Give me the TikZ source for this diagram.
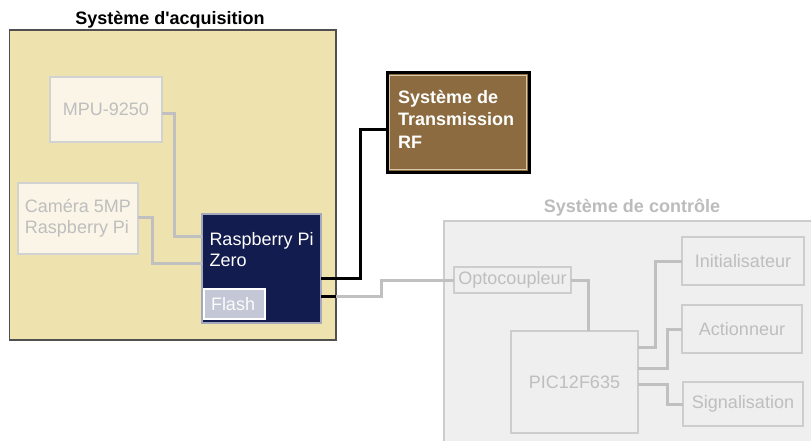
\documentclass[tikz,border=0pt]{standalone}
\usepackage{fontspec}
\setmainfont{Liberation Sans}
\usetikzlibrary{calc}
\definecolor{acqfill}{RGB}{238,226,174}
\definecolor{acqline}{RGB}{80,80,80}
\definecolor{lightfill}{RGB}{250,245,231}
\definecolor{lightline}{RGB}{210,210,210}
\definecolor{lighttext}{RGB}{190,190,190}
\definecolor{navy}{RGB}{19,28,79}
\definecolor{navyline}{RGB}{165,168,188}
\definecolor{flashfill}{RGB}{196,199,213}
\definecolor{rffill}{RGB}{139,107,63}
\definecolor{rfinner}{RGB}{215,200,170}
\definecolor{ctrlfill}{RGB}{239,239,239}
\definecolor{ctrlline}{RGB}{205,205,205}
\definecolor{ctrltext}{RGB}{188,188,188}
\definecolor{wire}{RGB}{192,192,192}
\begin{document}
\begin{tikzpicture}[x=1pt,y=-1pt,
  every node/.style={font=\fontsize{18pt}{21pt}\selectfont, inner sep=0pt, outer sep=0pt},
  title/.style={font=\fontsize{18pt}{21pt}\selectfont\bfseries, anchor=base},
  acqbox/.style={draw=acqline, fill=acqfill, line width=1.4pt, anchor=north west},
  lightbox/.style={draw=lightline, fill=lightfill, line width=1.4pt, anchor=north west, text=lighttext, align=left},
  ctrlsub/.style={draw=ctrlline, fill=ctrlfill, line width=1.4pt, anchor=north west, text=lighttext, align=center},
  graywire/.style={draw=wire, line width=3pt},
  blackwire/.style={draw=black, line width=3pt}
]
\useasboundingbox (0,0) rectangle (811,441);
\clip (0,0) rectangle (811,441);
\fill[white] (0,0) rectangle (811,441);

% acquisition system
\node[title] (acqtitle) at (170,25) {Système d\textquotesingle acquisition};
\node[acqbox, minimum width=326.5pt, minimum height=310pt] (acq) at (9.5,30) {};
\node[lightbox, minimum width=112pt, minimum height=65pt, align=center] (mpu) at (50,77) {MPU-9250};
\node[lightbox, minimum width=120pt, minimum height=71pt] (cam) at (18,183) {Caméra 5MP\\Raspberry Pi};
\node[draw=navyline, fill=navy, line width=1.4pt, anchor=north west, minimum width=119pt, minimum height=109pt] (rpi) at (202,214) {};
\node[anchor=north west, text=white, align=left] (rpitext) at (209.5,232) {Raspberry Pi\\Zero};
\node[draw=white, fill=flashfill, line width=1.2pt, anchor=north west, minimum width=61pt, minimum height=30pt] (flash) at (204,289) {};
\node[anchor=west, text=white!94!flashfill] (flashtext) at (211,304.5) {Flash};

% RF system
\node[draw=black, fill=rffill, line width=3pt, anchor=north west, minimum width=142pt, minimum height=99pt] (rf) at (387,73) {};
\draw[rfinner, line width=1pt] ([shift={(2.5,2.5)}]rf.north west) rectangle ([shift={(-2.5,-2.5)}]rf.south east);
\node[anchor=north west, text=white, align=left, font=\fontsize{18pt}{22.5pt}\selectfont\bfseries] (rftext) at (398,90) {Système de\\Transmission\\RF};

% control system
\node[title, text=ctrltext] (ctrltitle) at (632,212) {Système de contrôle};
\node[draw=ctrlline, fill=ctrlfill, line width=1.4pt, anchor=north west, minimum width=375pt, minimum height=230pt] (ctrl) at (444,221) {};
\node[ctrlsub, minimum width=117pt, minimum height=26pt] (opto) at (454,267) {Optocoupleur};
\node[ctrlsub, minimum width=127pt, minimum height=102pt] (pic) at (511,331) {PIC12F635};
\node[ctrlsub, minimum width=122pt, minimum height=48pt] (init) at (682,237) {Initialisateur};
\node[ctrlsub, minimum width=120pt, minimum height=48pt] (act) at (682,305) {Actionneur};
\node[ctrlsub, minimum width=120pt, minimum height=44pt] (sig) at (683,382) {Signalisation};

% wires in acquisition system
\draw[graywire] ([yshift=-4.5pt]mpu.east) -- ++(12,0) |- ([yshift=32.5pt]rpi.west);
\draw[graywire] ([yshift=1.5pt]cam.east) -- ++(14,0) |- ([yshift=5.5pt]rpi.west);

% RPi to RF
\draw[blackwire] ([yshift=-9.5pt]rpi.east) -- ++(39,0) |- ([yshift=-7.5pt]rf.west);

% RPi to optocoupler
\coordinate (rpiout) at ([yshift=-27.5pt]rpi.east);
\draw[blackwire] (rpiout) -- (rpiout -| acq.east);
\draw[graywire] (rpiout -| acq.east) -- ++(45,0) |- (opto.west);

% control wires
\draw[graywire] (opto.east) -| ([xshift=13.5pt]pic.north);
\draw[graywire] ([yshift=35pt]pic.east) -- ++(17,0) |- (init.west);
\draw[graywire] ([yshift=14pt]pic.east) -- ++(29,0) |- (act.west);
\draw[graywire] ([yshift=-2pt]pic.east) -- ++(29,0) |- (sig.west);
\end{tikzpicture}
\end{document}
